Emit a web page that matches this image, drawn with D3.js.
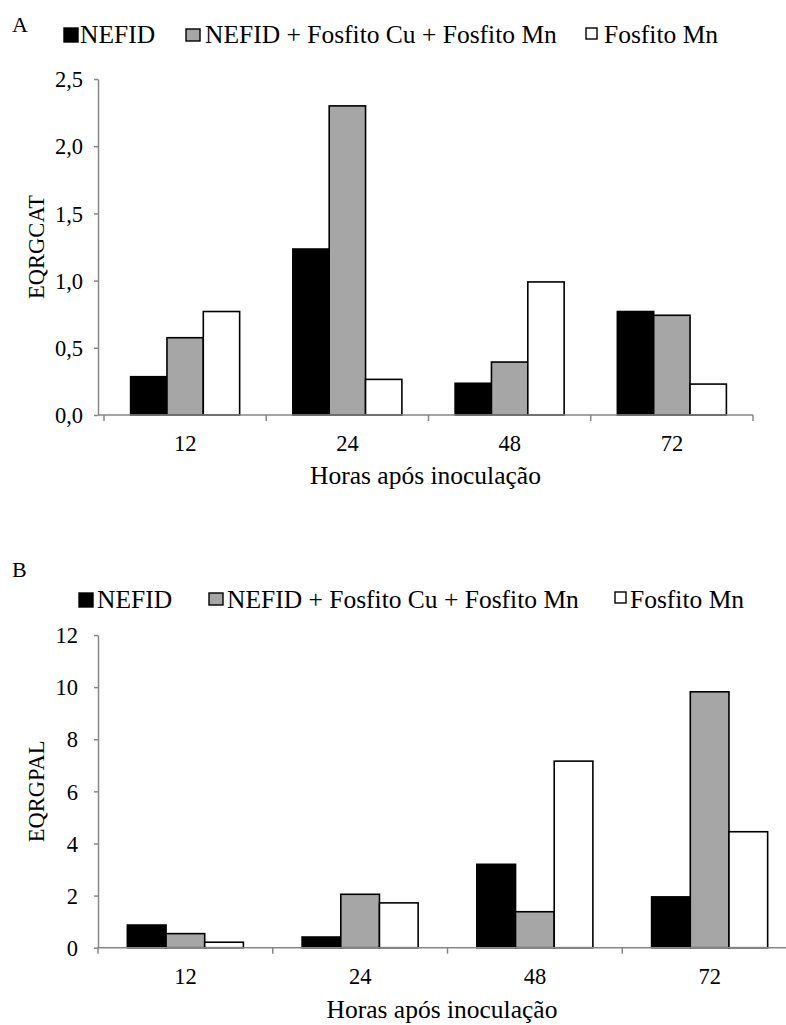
<!DOCTYPE html>
<html>
<head>
<meta charset="utf-8">
<script src="https://cdn.jsdelivr.net/npm/d3@7"></script>
<style>
  html, body { margin: 0; padding: 0; background: #fff; }
  svg { display: block; font-family: "Liberation Serif", "Times New Roman", serif; }
</style>
</head>
<body>
<svg id="chart" width="786" height="1025"></svg>
<script>
// ---------- data ----------
const categories = ["12", "24", "48", "72"];
const seriesNames = ["NEFID", "NEFID + Fosfito Cu + Fosfito Mn", "Fosfito Mn"];
const seriesColors = ["#000000", "#a6a6a6", "#ffffff"];

// Panel A: EQRGCAT
const catNefid    = [0.285, 1.235, 0.236, 0.77];
const catNefidCuMn = [0.575, 2.30, 0.394, 0.742];
const catMn       = [0.77, 0.265, 0.99, 0.23];
const ticksA = [0, 0.5, 1.0, 1.5, 2.0, 2.5];

// Panel B: EQRGPAL
const palNefid    = [0.87, 0.41, 3.2, 1.95];
const palNefidCuMn = [0.54, 2.05, 1.38, 9.82];
const palMn       = [0.21, 1.72, 7.16, 4.45];
const ticksB = [0, 2, 4, 6, 8, 10, 12];

const xTitle = "Horas após inoculação";

// ---------- drawing ----------
const svg = d3.select("#chart");
const axisColor = "#878787";

function panel(cfg) {
  const g = svg.append("g");
  const series = cfg.series;

  const x = d3.scaleBand().domain(categories).range([cfg.x0, cfg.x1]).paddingInner(0).paddingOuter(0);
  const y = d3.scaleLinear().domain([0, cfg.yMax]).range([cfg.y0, cfg.yTop]);

  const groupW = x.bandwidth() * cfg.groupFrac;
  const xs = d3.scaleBand().domain(d3.range(series.length)).range([0, groupW]);

  // bars
  series.forEach((vals, si) => {
    g.append("g").selectAll("rect").data(vals).join("rect")
      .attr("x", (d, i) => x(categories[i]) + (x.bandwidth() - groupW) / 2 + xs(si))
      .attr("y", d => y(d))
      .attr("width", xs.bandwidth())
      .attr("height", d => y(0) - y(d))
      .attr("fill", seriesColors[si])
      .attr("stroke", "#000")
      .attr("stroke-width", 1.6);
  });

  // y axis
  const ya = g.append("g")
    .attr("transform", `translate(${cfg.yAxisX},0)`)
    .call(d3.axisLeft(y).tickValues(cfg.ticks).tickFormat(cfg.fmt).tickSize(4).tickSizeOuter(0).tickPadding(cfg.yPad));
  ya.select(".domain").attr("stroke", axisColor).attr("stroke-width", 1.5);
  ya.selectAll(".tick line").attr("stroke", axisColor).attr("stroke-width", 1.5);
  ya.selectAll(".tick text").attr("font-size", 22.5).attr("fill", "#000")
    .attr("font-family", "Liberation Serif").attr("dy", "0.34em");

  // x axis
  const xa = g.append("g")
    .attr("transform", `translate(0,${cfg.y0})`)
    .call(d3.axisBottom(x).tickSize(0).tickSizeOuter(0));
  xa.select(".domain").remove();
  xa.selectAll(".tick text").attr("font-size", 22.5).attr("fill", "#000")
    .attr("font-family", "Liberation Serif").attr("dy", null).attr("y", 36);
  g.append("line")
    .attr("x1", cfg.yAxisX).attr("x2", cfg.axisEnd)
    .attr("y1", cfg.y0).attr("y2", cfg.y0)
    .attr("stroke", axisColor).attr("stroke-width", 1.5);
  const bounds = categories.map(c => x(c)).concat([x.range()[1]]);
  g.append("g").selectAll("line").data(bounds).join("line")
    .attr("x1", d => d).attr("x2", d => d)
    .attr("y1", cfg.y0).attr("y2", cfg.y0 + 6)
    .attr("stroke", axisColor).attr("stroke-width", 1.5);

  // titles
  g.append("text")
    .attr("x", (cfg.yAxisX + Math.min(cfg.axisEnd, x.range()[1])) / 2 + cfg.xTitleShift)
    .attr("y", cfg.y0 + cfg.xTitleDy)
    .attr("text-anchor", "middle").attr("font-size", 25.5).text(xTitle);
  g.append("text")
    .attr("transform", `translate(${cfg.yTitleX},${(cfg.y0 + cfg.yTop) / 2}) rotate(-90)`)
    .attr("text-anchor", "middle").attr("font-size", 22.5).text(cfg.yTitle);

  // panel letter
  g.append("text").attr("x", 12).attr("y", cfg.letterY).attr("font-size", 22).text(cfg.letter);

  // legend
  cfg.legend.forEach((L, i) => {
    const r = g.append("rect")
      .attr("x", L.sx).attr("y", L.sy).attr("width", L.sw).attr("height", L.sh)
      .attr("fill", seriesColors[i]).attr("stroke", "#000").attr("stroke-width", 1.4);
    g.append("text").attr("x", L.tx).attr("y", cfg.legendY)
      .attr("font-size", 25.5).text(seriesNames[i]);
  });
}

const fmtA = d => d.toFixed(1).replace(".", ",");
const fmtB = d => String(d);

panel({
  series: [catNefid, catNefidCuMn, catMn],
  x0: 104, x1: 753, yAxisX: 98, axisEnd: 753,
  y0: 415, yTop: 79, yMax: 2.5, ticks: ticksA, fmt: fmtA, yPad: 11,
  groupFrac: 0.672, yTitle: "EQRGCAT", yTitleX: 44,
  xTitleDy: 69, xTitleShift: 0,
  letter: "A", letterY: 32, legendY: 43,
  legend: [
    { sx: 64, sy: 28, sw: 14, sh: 14, tx: 80 },
    { sx: 186, sy: 29, sw: 14, sh: 12, tx: 205 },
    { sx: 586, sy: 28, sw: 11, sh: 11, tx: 604 }
  ]
});

panel({
  series: [palNefid, palNefidCuMn, palMn],
  x0: 98, x1: 797, yAxisX: 98, axisEnd: 786,
  y0: 947.7, yTop: 635, yMax: 12, ticks: ticksB, fmt: fmtB, yPad: 16,
  groupFrac: 0.664, yTitle: "EQRGPAL", yTitleX: 44,
  xTitleDy: 70, xTitleShift: 0,
  letter: "B", letterY: 577, legendY: 608,
  legend: [
    { sx: 79, sy: 593, sw: 14, sh: 14, tx: 97 },
    { sx: 209, sy: 593, sw: 14, sh: 12, tx: 227 },
    { sx: 615, sy: 592, sw: 11, sh: 11, tx: 630 }
  ]
});
</script>
</body>
</html>
